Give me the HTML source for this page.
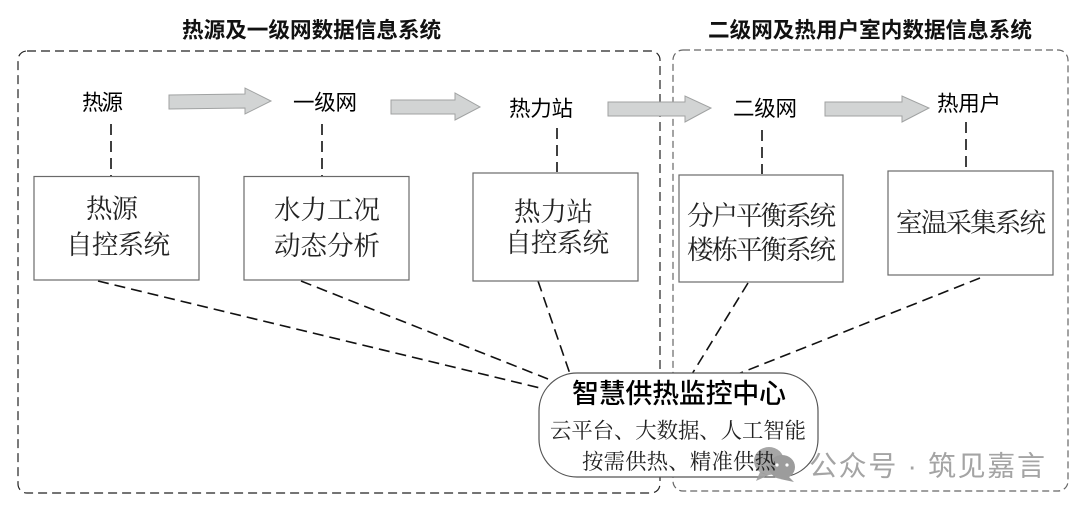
<!DOCTYPE html>
<html lang="zh">
<head>
<meta charset="utf-8">
<title>智慧供热监控中心</title>
<style>
html,body{margin:0;padding:0;background:#fff;width:1080px;height:509px;overflow:hidden}
svg{display:block}
.h{font-family:"Liberation Sans","Noto Sans CJK SC",sans-serif;font-weight:700;font-size:21.6px;fill:#111}
.l{font-family:"Liberation Sans","Noto Sans CJK SC",sans-serif;font-size:21.5px;fill:#000}
.b{font-family:"Liberation Serif","Noto Serif CJK SC",serif;font-size:26.5px;fill:#222}
.c{font-family:"Liberation Serif","Noto Serif CJK SC",serif;font-size:21.4px;fill:#222}
.t{font-family:"Liberation Sans","Noto Sans CJK SC",sans-serif;font-size:27px;font-weight:500;fill:#000}
.w{font-family:"Liberation Sans","Noto Sans CJK SC",sans-serif;font-size:28px;fill:#a4a4a4}
text{dominant-baseline:central}
</style>
</head>
<body>
<svg width="1080" height="509" viewBox="0 0 1080 509" xmlns="http://www.w3.org/2000/svg">
<rect width="1080" height="509" fill="#fff"/>

<text class="h" x="182" y="30">热源及一级网数据信息系统</text>
<text class="h" x="708" y="30">二级网及热用户室内数据信息系统</text>

<rect x="18" y="51" width="642" height="442" rx="9" fill="none" stroke="#222" stroke-width="1.2" stroke-dasharray="9 5"/>
<rect x="673" y="50" width="395" height="441" rx="10" fill="none" stroke="#666" stroke-width="1.2" stroke-dasharray="7 4"/>

<g fill="#d2d4d4" stroke="#a0a2a2" stroke-width="1">
<polygon points="169,95 245,94 245,88 271,101 245,114 245,108 169,109"/>
<polygon points="391,100 455,100 455,93 480,107 455,120 455,114 391,114"/>
<polygon points="608,102 685,102 685,96 711,108 685,122 685,116 608,116"/>
<polygon points="825,102 902,102 902,96 929,108 902,122 902,116 825,116"/>
</g>

<g stroke="#111" stroke-width="1.6" stroke-dasharray="11 6" fill="none">
<line x1="111" y1="124" x2="111" y2="176"/>
<line x1="322" y1="124" x2="322" y2="176"/>
<line x1="557" y1="128" x2="557" y2="172"/>
<line x1="762" y1="130" x2="762" y2="174"/>
<line x1="966" y1="122" x2="966" y2="167"/>
<line x1="98" y1="281" x2="540" y2="388"/>
<line x1="301" y1="281" x2="548" y2="379"/>
<line x1="538" y1="281" x2="570" y2="374"/>
<line x1="748" y1="283" x2="692" y2="374"/>
<line x1="980" y1="278" x2="738" y2="374"/>
</g>

<g fill="#fff" stroke="#6a6a6a" stroke-width="1.2">
<rect x="34" y="176.500" width="165" height="103.500"/>
<rect x="244" y="176.500" width="165" height="103.500"/>
<rect x="473" y="173" width="165" height="108"/>
<rect x="679" y="175" width="164" height="107"/>
<rect x="888" y="171" width="165" height="104"/>
</g>

<text class="l" x="82" y="103" textLength="41">热源</text>
<text class="l" x="293" y="103" textLength="64">一级网</text>
<text class="l" x="509" y="109" textLength="64">热力站</text>
<text class="l" x="733" y="109" textLength="64">二级网</text>
<text class="l" x="937" y="104" textLength="64">热用户</text>

<text class="b" x="86" y="209" textLength="52">热源</text>
<text class="b" x="66" y="245" textLength="104">自控系统</text>
<text class="b" x="274" y="210" textLength="106">水力工况</text>
<text class="b" x="274" y="246" textLength="106">动态分析</text>
<text class="b" x="514" y="212" textLength="79">热力站</text>
<text class="b" x="505" y="243" textLength="104">自控系统</text>
<text class="b" x="687" y="216" textLength="149">分户平衡系统</text>
<text class="b" x="687" y="250" textLength="149">楼栋平衡系统</text>
<text class="b" x="896" y="223" textLength="150">室温采集系统</text>

<rect x="539" y="373" width="279" height="104" rx="38" fill="#fff" stroke="#555" stroke-width="1.2"/>

<g fill="#9c9c9c">
<ellipse cx="769" cy="461" rx="15" ry="14" opacity=".9"/>
<polygon points="760,472 756,481 769,475" opacity=".9"/>
<ellipse cx="782" cy="467" rx="13" ry="12"/>
<polygon points="788,476 794,482 780,479"/>
</g>
<circle cx="777" cy="465" r="1.600" fill="#fff"/>
<circle cx="787" cy="465" r="1.600" fill="#fff"/>

<text class="t" x="572" y="394" textLength="214">智慧供热监控中心</text>
<text class="c" x="550" y="431" textLength="256">云平台、大数据、人工智能</text>
<text class="c" x="582" y="462" textLength="194">按需供热、精准供热</text>

<text class="w" x="809" y="466" textLength="236">公众号 · 筑见嘉言</text>
</svg>
</body>
</html>
